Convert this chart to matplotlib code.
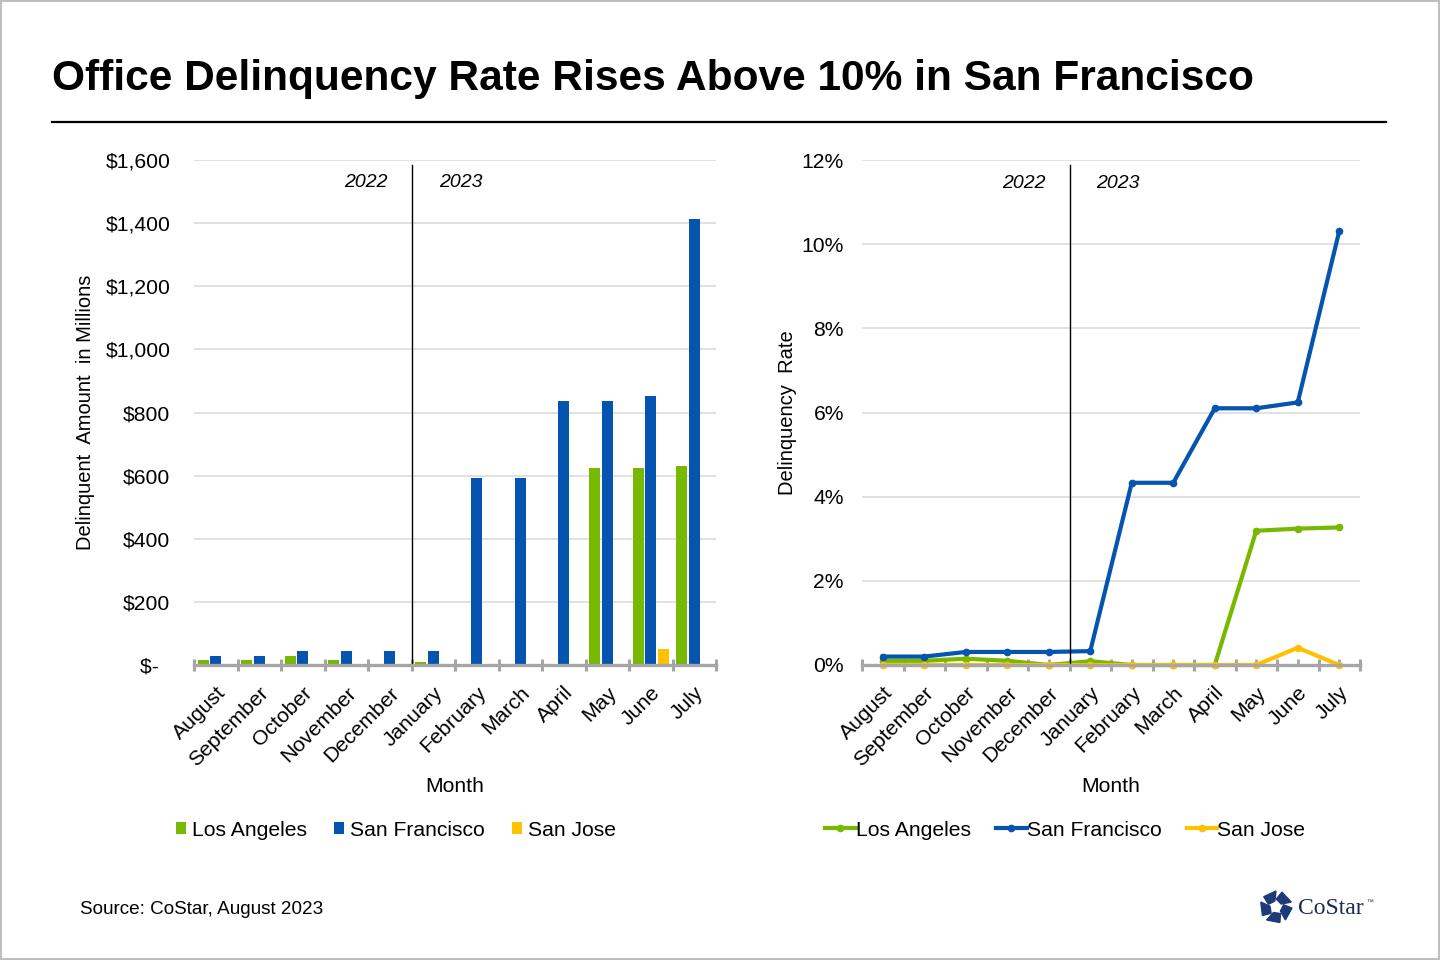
import matplotlib.pyplot as plt
from matplotlib.lines import Line2D
from matplotlib.patches import Rectangle, Polygon
import numpy as np

plt.rcParams['font.family'] = ['Liberation Sans', 'DejaVu Sans']

months = ['August', 'September', 'October', 'November', 'December', 'January',
          'February', 'March', 'April', 'May', 'June', 'July']

# delinquent amount, $ millions
amt_la = [16, 16, 28, 16, 0, 10, 0, 0, 0, 625, 625, 632]
amt_sf = [28, 28, 44, 44, 44, 44, 594, 594, 835, 835, 851, 1412]
amt_sj = [0, 0, 0, 0, 0, 0, 0, 0, 0, 0, 51, 0]

# delinquency rate, %
rate_la = [0.10, 0.10, 0.15, 0.10, 0.0, 0.09, 0.0, 0.0, 0.0, 3.19, 3.24, 3.27]
rate_sf = [0.20, 0.20, 0.31, 0.31, 0.31, 0.33, 4.33, 4.33, 6.10, 6.10, 6.24, 10.31]
rate_sj = [0.0, 0.0, 0.0, 0.0, 0.0, 0.0, 0.0, 0.0, 0.0, 0.0, 0.41, 0.0]

amt_ticks = [0, 200, 400, 600, 800, 1000, 1200, 1400, 1600]
amt_labels = ['$-  '] + [f'${v:,}' for v in amt_ticks[1:]]
rate_ticks = [0, 2, 4, 6, 8, 10, 12]
rate_labels = [f'{v}%' for v in rate_ticks]

GREEN = '#77b800'
BLUE = '#0554b0'
YELLOW = '#ffc000'
AXGRAY = '#a6a6a6'
FS = 15.2
LFS = 14.5

W, H = 1440, 960
fig = plt.figure(figsize=(14.4, 9.6), dpi=100)


def fx(px):
    return px / W


def fy(py):
    return 1 - py / H


def style_axis(ax):
    x = np.arange(len(months))
    ax.set_xlim(-0.5, len(months) - 0.5)
    for s in ['top', 'left', 'right']:
        ax.spines[s].set_visible(False)
    ax.spines['bottom'].set_color(AXGRAY)
    ax.spines['bottom'].set_linewidth(2.4)
    ax.set_xticks(x)
    ax.set_xticks(np.arange(len(months) + 1) - 0.5, minor=True)
    ax.set_xticklabels(months, rotation=45, ha='right', rotation_mode='anchor', fontsize=FS)
    ax.tick_params(axis='x', which='major', direction='in', length=4, width=2, color=AXGRAY, pad=13)
    ax.tick_params(axis='x', which='minor', direction='inout', length=8, width=2.2, color=AXGRAY)
    ax.tick_params(axis='y', length=0, labelsize=FS)
    ax.grid(axis='y', color='#d9d9d9', lw=1.1)
    ax.set_axisbelow(True)
    ax.set_xlabel('Month', fontsize=FS)
    ax.xaxis.set_label_coords(0.5, -0.222)


# left: bar chart
ax1 = fig.add_axes([fx(194), fy(665), fx(716 - 194), (665 - 160) / H])
x = np.arange(len(months))
bw = 0.25
off = 0.29
ax1.bar(x - off, amt_la, bw, color=GREEN, label='Los Angeles')
ax1.bar(x, amt_sf, bw, color=BLUE, label='San Francisco')
ax1.bar(x + off, amt_sj, bw, color=YELLOW, label='San Jose')
ax1.set_ylim(0, 1600)
ax1.set_yticks(amt_ticks)
ax1.set_yticklabels(amt_labels)
ax1.tick_params(axis='y', pad=17)
style_axis(ax1)
ax1.set_ylabel('Delinquent  Amount  in Millions', fontsize=LFS)
ax1.yaxis.set_label_coords(-0.19, 0.5)
ax1.axvline(4.5, ymax=0.99, color='black', lw=1)
ax1.text(3.45, 1528, '2022', style='italic', fontsize=14, ha='center', va='center')
ax1.text(5.64, 1528, '2023', style='italic', fontsize=14, ha='center', va='center')
ax1.legend(loc='center', bbox_to_anchor=(0.387, -0.327), ncol=3, frameon=False, fontsize=FS,
           handlelength=0.47, handleheight=0.47, handletextpad=0.28, columnspacing=1.3)

# right: line chart
ax2 = fig.add_axes([fx(862), fy(665), fx(1360 - 862), (665 - 160) / H])
lk = dict(lw=3, marker='o', markersize=4.5, solid_joinstyle='round')
ax2.plot(x, rate_la, color=GREEN, label='Los Angeles', **lk)
ax2.plot(x, rate_sf, color=BLUE, label='San Francisco', **lk)
ax2.plot(x, rate_sj, color=YELLOW, label='San Jose', **lk)
for ln in ax2.lines:
    ln.set_clip_on(False)
ax2.set_ylim(0, 12)
ax2.set_yticks(rate_ticks)
ax2.set_yticklabels(rate_labels)
ax2.tick_params(axis='y', pad=13)
style_axis(ax2)
ax2.set_ylabel('Delinquency  Rate', fontsize=LFS)
ax2.yaxis.set_label_coords(-0.131, 0.5)
ax2.axvline(4.5, ymax=0.99, color='black', lw=1)
ax2.text(3.4, 11.45, '2022', style='italic', fontsize=14, ha='center', va='center')
ax2.text(5.67, 11.45, '2023', style='italic', fontsize=14, ha='center', va='center')
ax2.legend(loc='center', bbox_to_anchor=(0.408, -0.327), ncol=3, frameon=False, fontsize=FS,
           handlelength=1.45, handletextpad=0.0, columnspacing=1.2)

# title, rule, source
fig.text(fx(52), fy(79), 'Office Delinquency Rate Rises Above 10% in San Francisco',
         fontsize=30.65, fontweight='bold', ha='left', va='center')
fig.add_artist(Line2D([fx(52), fx(1386)], [fy(122), fy(122)], color='black', lw=1.6))
fig.text(fx(80), fy(909), 'Source: CoStar, August 2023', fontsize=13.6, ha='left', va='center')
fig.add_artist(Rectangle((0.001, 0.0015), 0.998, 0.997, fill=False, edgecolor='#bfbfbf', lw=1.5,
                         transform=fig.transFigure))

# CoStar logo
lax = fig.add_axes([fx(1258), fy(925), fx(36), 36 / H])
lax.set_xlim(-18, 18)
lax.set_ylim(-18, 18)
lax.set_aspect('equal')
lax.axis('off')
for k in range(5):
    t = np.deg2rad(90 + 72 * k)
    t2 = t + np.deg2rad(50)
    pts = [(16 * np.cos(t), 16 * np.sin(t)),
           (16 * np.cos(t2), 16 * np.sin(t2)),
           (8 * np.cos(t2 + 0.35), 8 * np.sin(t2 + 0.35)),
           (6 * np.cos(t + 0.2), 6 * np.sin(t + 0.2))]
    lax.add_patch(Polygon(pts, closed=True, color='#1f3a78'))
fig.text(fx(1298), fy(908), 'CoStar', family='Liberation Serif', fontsize=17, color='#1b2a4e',
         ha='left', va='center')
fig.text(fx(1366), fy(903), '™', fontsize=5, color='#1b2a4e', ha='left', va='center')

fig.savefig('out.png', dpi=100)
